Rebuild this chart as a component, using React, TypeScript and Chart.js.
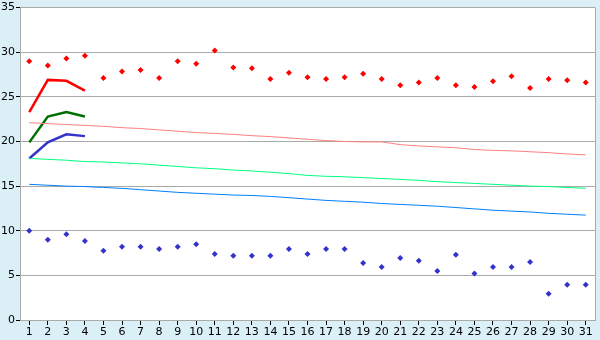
import React, { useEffect, useRef } from "react";
import { Chart, registerables } from "chart.js";

Chart.register(...registerables);

const days = Array.from({ length: 31 }, (_, i) => String(i + 1));

const maxPoints = [29.0, 28.5, 29.3, 29.6, 27.1, 27.85, 28.0, 27.1, 29.0, 28.7, 30.2, 28.3, 28.2, 27.0, 27.7, 27.2, 27.0, 27.2, 27.6, 27.0, 26.3, 26.6, 27.1, 26.3, 26.1, 26.75, 27.3, 26.0, 27.0, 26.85, 26.6];
const minPoints = [10.0, 9.0, 9.6, 8.85, 7.75, 8.2, 8.2, 7.95, 8.2, 8.5, 7.4, 7.2, 7.2, 7.2, 7.95, 7.4, 7.95, 7.95, 6.4, 5.95, 6.95, 6.65, 5.5, 7.3, 5.2, 5.95, 5.95, 6.5, 2.95, 3.95, 3.95];

const thickRed = [23.3, 26.9, 26.8, 25.7];
const thickGreen = [19.9, 22.8, 23.3, 22.8];
const thickBlue = [18.1, 19.9, 20.8, 20.6];

const thinRed = [22.1, 22.0, 21.9, 21.8, 21.7, 21.55, 21.45, 21.3, 21.15, 21.0, 20.9, 20.8, 20.65, 20.55, 20.4, 20.25, 20.1, 20.0, 19.95, 19.95, 19.65, 19.5, 19.4, 19.3, 19.1, 19.0, 18.95, 18.85, 18.75, 18.6, 18.5];
const thinGreen = [18.1, 18.0, 17.9, 17.75, 17.7, 17.6, 17.5, 17.35, 17.2, 17.05, 16.95, 16.8, 16.7, 16.55, 16.4, 16.2, 16.1, 16.05, 15.95, 15.85, 15.75, 15.65, 15.5, 15.4, 15.3, 15.2, 15.1, 15.0, 14.95, 14.85, 14.75];
const thinBlue = [15.2, 15.1, 15.0, 14.95, 14.85, 14.75, 14.6, 14.45, 14.3, 14.2, 14.1, 14.0, 13.95, 13.85, 13.7, 13.55, 13.4, 13.3, 13.2, 13.05, 12.95, 12.85, 12.75, 12.6, 12.45, 12.3, 12.2, 12.1, 11.95, 11.85, 11.75];

const yTicks = [0, 5, 10, 15, 20, 25, 30, 35];

const pad = (arr: number[]) => days.map((_, i) => (i < arr.length ? arr[i] : null));

const borderPlugin = {
  id: "frameBorder",
  beforeDraw(chart: any) {
    const { ctx, chartArea } = chart;
    ctx.save();
    ctx.fillStyle = "#ffffff";
    ctx.fillRect(chartArea.left, chartArea.top, chartArea.right - chartArea.left, chartArea.bottom - chartArea.top);
    ctx.restore();
  },
  afterDraw(chart: any) {
    const { ctx, chartArea } = chart;
    ctx.save();
    ctx.strokeStyle = "#aaaaaa";
    ctx.lineWidth = 1;
    ctx.beginPath();
    ctx.moveTo(chartArea.right + 0.5, chartArea.top);
    ctx.lineTo(chartArea.right + 0.5, chartArea.bottom);
    ctx.stroke();
    ctx.restore();
  },
};

export default function App() {
  const ref = useRef<HTMLCanvasElement | null>(null);
  useEffect(() => {
    document.body.style.margin = "0";
    document.body.style.background = "#daeff6";
    const canvas = ref.current!;
    const line = (data: any[], color: string, width: number) => ({
      type: "line" as const,
      data,
      borderColor: color,
      backgroundColor: color,
      borderWidth: width,
      pointRadius: 0,
      tension: 0,
      spanGaps: false,
    });
    const pts = (data: number[], color: string) => ({
      type: "line" as const,
      data,
      borderColor: color,
      backgroundColor: color,
      showLine: false,
      pointStyle: "rectRot" as const,
      pointRadius: 3,
      pointBorderWidth: 0,
    });
    const chart = new Chart(canvas, {
      type: "line",
      data: {
        labels: days,
        datasets: [
          line(thinRed, "#ff8080", 1),
          line(thinGreen, "#00ff80", 1),
          line(thinBlue, "#0080ff", 1),
          line(pad(thickRed), "#ff0000", 2.5),
          line(pad(thickGreen), "#007000", 2.5),
          line(pad(thickBlue), "#3333cc", 2.5),
          pts(maxPoints, "#ff0000"),
          pts(minPoints, "#3333cc"),
        ] as any,
      },
      options: {
        animation: false,
        responsive: false,
        maintainAspectRatio: false,
        layout: { padding: { top: 5, right: 5, left: 0, bottom: 0 } },
        plugins: { legend: { display: false }, tooltip: { enabled: false } },
        scales: {
          x: {
            offset: true,
            grid: { display: true, drawOnChartArea: false, drawTicks: true, tickLength: 5, tickColor: "#000000", offset: false },
            border: { display: true, color: "#aaaaaa" },
            ticks: { color: "#000", font: { family: "DejaVu Sans", size: 11 }, padding: 1, maxRotation: 0, autoSkip: false },
            afterFit: (s: any) => { s.height = 20; },
          },
          y: {
            min: 0,
            max: 35,
            afterBuildTicks: (s: any) => { s.ticks = yTicks.map((v) => ({ value: v })); },
            grid: { color: "#aaaaaa", drawTicks: true, tickLength: 4, tickColor: "#000000" },
            border: { display: true, color: "#aaaaaa" },
            ticks: { color: "#000", font: { family: "DejaVu Sans", size: 11 }, padding: 1 },
            afterFit: (s: any) => { s.width = 20; },
          },
        },
      },
      plugins: [borderPlugin],
    });
    return () => chart.destroy();
  }, []);
  return <canvas ref={ref} width={600} height={340} style={{ display: "block", width: 600, height: 340 }} />;
}
